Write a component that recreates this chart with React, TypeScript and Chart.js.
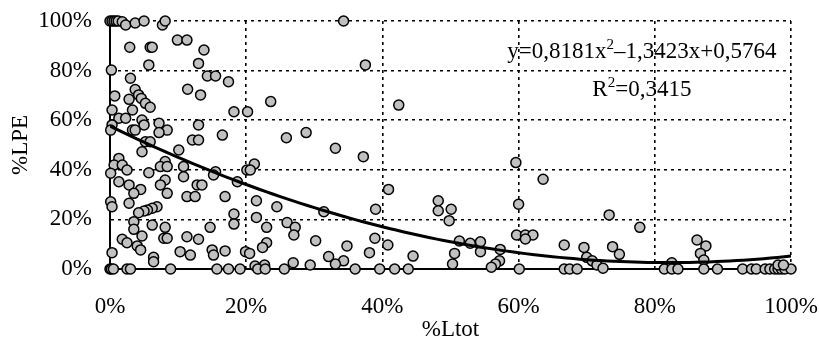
import React, { useEffect, useRef } from "react";
import { Chart, registerables } from "chart.js";

Chart.register(...registerables);

// Tick values (percent)
const xTicks = [0, 20, 40, 60, 80, 100];
const yTicks = [0, 20, 40, 60, 80, 100];

const ltot = [
  0, 0.3, 0.6, 0.9, 1.2, 1.8, 2.3, 3.7, 5.0, 7.7, 8.1, 34.3,
  2.9, 5.9, 6.2, 9.9, 11.3, 13.8, 13.0, 5.7, 0.2, 14.3, 15.5, 3.0, 17.4, 3.7, 11.4, 4.2, 13.3, 0.7,
  2.8, 4.6, 5.2, 5.9, 0.3, 3.3, 18.2, 1.3, 2.3, 4.7, 7.2, 0.3, 13.0, 5.0, 0.1, 3.3, 3.7, 8.4, 7.2,
  16.5, 12.1, 13.0, 5.2, 5.9,
  10.1, 4.7, 1.3, 0.6, 1.8, 8.1, 7.4, 8.4, 10.8, 2.5, 0.1, 5.7, 15.5, 15.2, 10.8, 8.1, 1.3, 18.7,
  7.4, 12.8, 13.5, 2.8, 4.5, 3.5, 8.4, 11.3, 12.5, 16.9, 0.1, 2.8, 0.3, 6.9, 6.2, 5.5, 5.0, 4.2,
  18.2, 3.5, 18.2, 6.2, 8.1, 14.7, 3.5, 4.7, 11.3, 1.8, 7.9, 8.4, 13.0, 2.5, 4.0, 4.5, 10.3, 15.0,
  16.9, 0.3, 11.8, 15.2, 6.4, 6.4,
  0, 0.2, 0.5, 2.5, 3.0, 8.9, 15.7, 17.4, 19.1,
  37.5, 23.6, 42.4, 20.2, 28.8, 25.9, 33.1,
  37.2, 21.2, 20.1, 20.6, 40.9, 21.5, 24.5, 39.0, 31.4, 21.5, 26.0, 27.2, 23.0, 27.0, 38.9, 30.2,
  23.0, 40.8, 34.8, 22.4, 19.9, 20.5, 38.1, 44.5, 32.1, 34.3, 26.9, 33.1, 29.4, 22.7, 21.3,
  21.7, 22.8, 25.6, 36.0, 39.6, 41.8, 43.8,
  59.6, 63.6, 48.2, 48.2, 50.1, 60.0, 49.8, 73.3, 59.7, 61.0, 62.1, 61.0, 51.3, 52.9, 54.4, 54.4,
  57.3, 50.6, 50.3, 57.2, 56.6, 56.0, 60.1, 66.7, 69.6, 70.0, 70.8, 71.5, 72.4, 66.7, 67.5, 68.6,
  73.8, 74.8,
  77.8, 86.2, 87.5, 86.7, 87.2, 82.5, 81.4, 82.5, 83.4, 87.2, 89.2, 92.9, 94.2, 94.9, 96.2, 96.9,
  97.6, 98.1, 98.6, 99.1, 100, 98.1, 98.9,
];

const lpe = [
  100, 100, 100, 100, 100, 99.7, 98.4, 99.2, 100, 98.4, 100, 100,
  89.4, 89.4, 89.4, 92.3, 92.3, 88.3, 82.9, 82.3, 80.2, 77.8, 77.8, 76.9, 75.5, 72.4, 72.5, 70.2, 70.2, 69.8,
  68.4, 68.8, 66.8, 65.2, 64.1, 64.1, 63.4, 60.8, 60.8, 60.1, 58.8, 58.1, 58.1, 58.1, 56, 56, 56, 56, 55,
  54, 52, 52, 51.3, 51.3,
  48, 47.3, 44.6, 41.9, 41.9, 43.3, 41.3, 41.3, 41.3, 39.9, 38.6, 38.8, 39.2, 37.9, 37.2, 35.9, 35.2, 35.2,
  33.9, 33.9, 33.9, 33.9, 32.1, 30.5, 30.5, 29.2, 29.2, 29.2, 27.1, 26.5, 25.1, 25.1, 24.5, 23.8, 23.4, 22.7,
  22.2, 19.1, 18.1, 17.7, 16.8, 16.8, 16.0, 13.3, 13.0, 12.0, 12.4, 12.4, 12.0, 10.6, 9.3, 7.7, 7.0, 7.7,
  7.3, 6.6, 5.6, 5.6, 4.7, 2.9,
  0, 0, 0, 0, 0, 0, 0, 0, 0,
  82.3, 67.5, 66.1, 63.4, 55.0, 52.9, 48.7,
  45.3, 42.3, 39.9, 39.9, 32.1, 27.5, 25.1, 24.1, 23.1, 20.8, 18.7, 16.8, 16.8, 13.7, 12.4, 11.4,
  10.6, 9.7, 9.3, 8.7, 7.0, 6.3, 6.6, 5.2, 5.0, 3.3, 2.5, 2.0, 1.6, 1.6, 1.2,
  0, 0, 0, 0, 0, 0, 0,
  42.9, 36.2, 27.5, 23.5, 24.1, 26.1, 19.5, 21.8, 13.7, 13.7, 13.7, 12.1, 11.3, 10.4, 11.0, 7.0,
  7.9, 6.3, 2.0, 3.3, 2.0, 0.7, 0, 9.7, 8.7, 4.7, 3.3, 1.6, 0.3, 0, 0, 0,
  9.0, 5.9,
  16.8, 11.7, 9.3, 6.3, 3.6, 2.5, 0, 0, 0, 0, 0, 0, 0, 0, 0, 0,
  0, 0, 0, 0, 0, 1.6, 1.6,
];

// Polynomial trendline coefficients (y = a x^2 + b x + c, x and y as fractions)
const trendA = 0.8181;
const trendB = -1.3423;
const trendC = 0.5764;
const trendSteps = 100;

const equationMain = "y=0,8181x";
const equationSup = "2";
const equationRest = "\u20131,3423x+0,5764";
const r2Main = "R";
const r2Sup = "2";
const r2Rest = "=0,3415";

const FONT = "'Liberation Serif', 'Times New Roman', serif";

const equationPlugin = {
  id: "equationText",
  afterDraw(chart: any) {
    const ctx = chart.ctx as CanvasRenderingContext2D;
    const xs = chart.scales.x;
    const cx = xs.getPixelForValue(78.1);
    const drawRuns = (runs: [string, boolean][], baseline: number) => {
      const big = `23px ${FONT}`;
      const small = `15px ${FONT}`;
      let total = 0;
      for (const [t, sup] of runs) {
        ctx.font = sup ? small : big;
        total += ctx.measureText(t).width;
      }
      let x = cx - total / 2;
      ctx.fillStyle = "#000";
      ctx.textAlign = "left";
      ctx.textBaseline = "alphabetic";
      for (const [t, sup] of runs) {
        ctx.font = sup ? small : big;
        ctx.fillText(t, x, sup ? baseline - 9 : baseline);
        x += ctx.measureText(t).width;
      }
    };
    ctx.save();
    drawRuns(
      [
        [equationMain, false],
        [equationSup, true],
        [equationRest, false],
      ],
      57.5
    );
    drawRuns(
      [
        [r2Main, false],
        [r2Sup, true],
        [r2Rest, false],
      ],
      95.5
    );
    ctx.restore();
  },
};

export default function App() {
  const ref = useRef<HTMLCanvasElement | null>(null);

  useEffect(() => {
    document.body.style.margin = "0";
    const canvas = ref.current;
    if (!canvas) return;

    const points = ltot.map((x, i) => ({ x, y: lpe[i] }));
    const trend: { x: number; y: number }[] = [];
    for (let i = 0; i <= trendSteps; i++) {
      const f = i / trendSteps;
      trend.push({ x: f * 100, y: (trendA * f * f + trendB * f + trendC) * 100 });
    }

    const tickFont = { family: FONT, size: 23 };

    const chart = new Chart(canvas, {
      type: "scatter",
      data: {
        datasets: [
          {
            type: "line",
            data: trend,
            borderColor: "#000",
            borderWidth: 3,
            pointRadius: 0,
            fill: false,
            tension: 0,
          } as any,
          {
            data: points,
            backgroundColor: "#c0c0c0",
            borderColor: "#000",
            borderWidth: 1.5,
            pointRadius: 5,
            clip: false,
          } as any,
        ],
      },
      options: {
        responsive: false,
        animation: false,
        devicePixelRatio: 1,
        layout: { padding: { top: 21, right: 28, left: 0, bottom: 0 } },
        plugins: { legend: { display: false }, tooltip: { enabled: false } },
        scales: {
          x: {
            type: "linear",
            min: 0,
            max: 100,
            afterBuildTicks: (s: any) => {
              s.ticks = xTicks.map((v) => ({ value: v }));
            },
            afterFit: (s: any) => {
              s.height = 75;
              s.paddingLeft = 0;
              s.paddingRight = 0;
            },
            ticks: {
              color: "#000",
              font: tickFont,
              padding: 24,
              callback: (v: any) => `${v}%`,
              maxRotation: 0,
            },
            grid: { color: "#000", lineWidth: 1.6, drawTicks: false },
            border: { display: true, color: "#000", width: 2, dash: [3, 4] },
            title: {
              display: true,
              text: "%Ltot",
              color: "#000",
              font: { family: FONT, size: 23 },
              padding: { top: 0, bottom: 0 },
            },
          },
          y: {
            type: "linear",
            min: 0,
            max: 100,
            afterBuildTicks: (s: any) => {
              s.ticks = yTicks.map((v) => ({ value: v }));
            },
            afterFit: (s: any) => {
              s.width = 110;
              s.paddingTop = 0;
              s.paddingBottom = 0;
            },
            ticks: {
              color: "#000",
              font: tickFont,
              padding: 18,
              callback: (v: any) => `${v}%`,
            },
            grid: { color: "#000", lineWidth: 1.6, drawTicks: false },
            border: { display: true, color: "#000", width: 2, dash: [3, 4] },
            title: {
              display: true,
              text: "%LPE",
              color: "#000",
              font: { family: FONT, size: 23 },
              padding: { top: 7, bottom: 7 },
            },
          },
        },
      },
      plugins: [equationPlugin],
    });

    return () => chart.destroy();
  }, []);

  return (
    <div style={{ width: 819, height: 344, background: "#fff" }}>
      <canvas ref={ref} width={819} height={344} style={{ display: "block" }} />
    </div>
  );
}
